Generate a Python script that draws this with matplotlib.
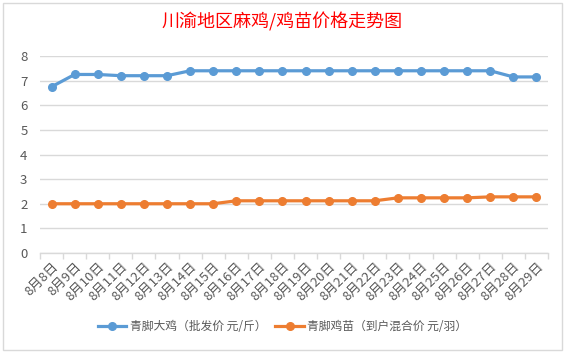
import matplotlib
matplotlib.use("Agg")
import matplotlib.pyplot as plt
from matplotlib.patches import Rectangle

plt.rcParams['font.family'] = ['Noto Sans CJK SC', 'DejaVu Sans']

# data
dates = [f"8月{d}日" for d in range(8, 30)]
adult_price = [6.75, 7.25, 7.25, 7.2, 7.2, 7.2, 7.4, 7.4, 7.4, 7.4, 7.4,
               7.4, 7.4, 7.4, 7.4, 7.4, 7.4, 7.4, 7.4, 7.4, 7.15, 7.15]
chick_price = [2.0, 2.0, 2.0, 2.0, 2.0, 2.0, 2.0, 2.0, 2.12, 2.12, 2.12,
               2.12, 2.12, 2.12, 2.12, 2.24, 2.24, 2.24, 2.24, 2.28, 2.28, 2.28]
series_names = ["青脚大鸡（批发价 元/斤）", "青脚鸡苗（到户混合价 元/羽）"]
title = "川渝地区麻鸡/鸡苗价格走势图"

blue = "#5B9BD5"
orange = "#ED7D31"
grid = "#D9D9D9"
txt = "#595959"

fig = plt.figure(figsize=(5.65, 3.53), dpi=100)
fig.patch.set_facecolor("white")

# chart border
fig.patches.append(Rectangle((3 / 565, 3 / 353), 559 / 565, 347 / 353,
                             transform=fig.transFigure, fill=False,
                             edgecolor=grid, linewidth=1))

ax = fig.add_axes([40 / 565, 1 - 253 / 353, 508 / 565, 197 / 353])
x = list(range(len(dates)))

ax.plot(x, adult_price, color=blue, linewidth=2.3, marker="o", markersize=5.5,
        label=series_names[0], zorder=3)
ax.plot(x, chick_price, color=orange, linewidth=2.3, marker="o", markersize=5.5,
        label=series_names[1], zorder=3)

ax.set_xlim(-0.5, len(dates) - 0.5)
ax.set_ylim(0, 8)
ax.set_yticks(range(0, 9))
ax.grid(axis="y", color=grid, linewidth=1)
ax.set_axisbelow(True)

for s in ["top", "right", "left"]:
    ax.spines[s].set_visible(False)
ax.spines["bottom"].set_color(grid)
ax.spines["bottom"].set_linewidth(1)

ax.set_xticks(x)
ax.set_xticklabels(dates, rotation=45, ha="right", va="top",
                   rotation_mode="anchor", fontsize=9.5, color=txt)
ax.set_xticks([i - 0.5 for i in range(len(dates) + 1)], minor=True)
ax.tick_params(axis="x", which="major", length=0, pad=5)
ax.tick_params(axis="x", which="minor", length=4, color=grid, width=1)
ax.tick_params(axis="y", length=0, pad=9, labelsize=9.5, labelcolor=txt)

fig.text(0.5, 1 - 22 / 353, title, ha="center", va="center",
         fontsize=13, color="#FF0000")

fig.legend(loc="center", bbox_to_anchor=(0.5, 1 - 327 / 353), ncol=2,
           frameon=False, fontsize=8.5, handlelength=2.4, columnspacing=0.8,
           handletextpad=0.3, labelcolor=txt)

fig.savefig("out.png", dpi=100, facecolor="white")
